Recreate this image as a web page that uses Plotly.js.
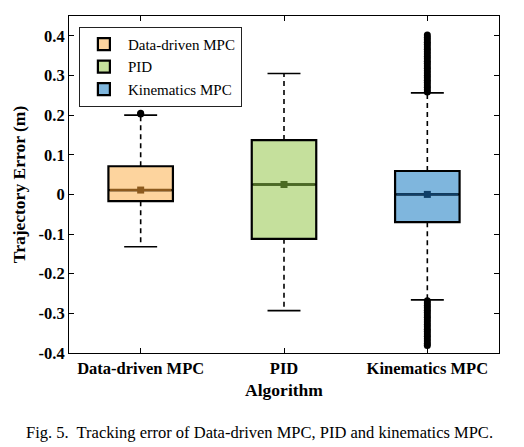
<!DOCTYPE html>
<html>
<head>
<meta charset="utf-8">
<script src="https://cdn.plot.ly/plotly-3.0.1.min.js"></script>
<style>html,body{margin:0;padding:0;background:#fff;}#chart{width:524px;height:447px;}</style>
</head>
<body>
<div id="chart"></div>
<script>
// ---- data ----
var categories = ["Data-driven MPC", "PID", "Kinematics MPC"];
var positions = [0, 1, 2];
var q1 = [-0.017, -0.112, -0.070];
var medians = [0.011, 0.025, 0.000];
var q3 = [0.071, 0.137, 0.059];
var means = [0.011, 0.025, 0.000];
var lowerWhisker = [-0.132, -0.293, -0.266];
var upperWhisker = [0.200, 0.305, 0.256];
var outliersDD = [0.203, 0.205];
var outliersPID = [];
var outliersKinHigh = [0.258, 0.264, 0.270, 0.276, 0.282, 0.288, 0.294, 0.300, 0.306, 0.312, 0.318, 0.324, 0.330, 0.336, 0.342, 0.348, 0.354, 0.360, 0.366, 0.372, 0.378, 0.384, 0.390, 0.396, 0.402];
var outliersKinLow = [-0.268, -0.274, -0.280, -0.286, -0.292, -0.298, -0.304, -0.310, -0.316, -0.322, -0.328, -0.334, -0.340, -0.346, -0.352, -0.358, -0.364, -0.370, -0.376, -0.381];
var yTickVals = [-0.4, -0.3, -0.2, -0.1, 0, 0.1, 0.2, 0.3, 0.4];
var yTickText = ["-0.4", "-0.3", "-0.2", "-0.1", "0", "0.1", "0.2", "0.3", "0.4"];

// ---- styles ----
var fillColors = ["#FDD49E", "#C5E09C", "#7FB6DD"];
var darkColors = ["#8C5A1E", "#4B6B22", "#0F3F68"];
var boxWidth = 0.45;
var capHalf = 0.115;
var serif = "'Liberation Serif', 'Times New Roman', Times, serif";

var traces = [];
for (var i = 0; i < categories.length; i++) {
  traces.push({
    type: "box", name: categories[i], x: [positions[i]],
    q1: [q1[i]], median: [medians[i]], q3: [q3[i]],
    lowerfence: [q1[i]], upperfence: [q3[i]],
    width: boxWidth, fillcolor: fillColors[i],
    line: {color: "#000", width: 2.2}, whiskerwidth: 0,
    boxpoints: false, hoverinfo: "skip", showlegend: true
  });
}
for (var i = 0; i < categories.length; i++) {
  var p = positions[i];
  traces.push({
    type: "scatter", mode: "lines", showlegend: false, hoverinfo: "skip",
    x: [p, p, null, p, p], y: [q3[i], upperWhisker[i], null, q1[i], lowerWhisker[i]],
    line: {color: "#000", width: 1.6, dash: "5px,4px"}
  });
  traces.push({
    type: "scatter", mode: "lines", showlegend: false, hoverinfo: "skip",
    x: [p - capHalf, p + capHalf, null, p - capHalf, p + capHalf],
    y: [upperWhisker[i], upperWhisker[i], null, lowerWhisker[i], lowerWhisker[i]],
    line: {color: "#000", width: 1.6}
  });
  traces.push({
    type: "scatter", mode: "lines", showlegend: false, hoverinfo: "skip",
    x: [p - boxWidth / 2 + 0.01, p + boxWidth / 2 - 0.01], y: [medians[i], medians[i]],
    line: {color: darkColors[i], width: 2.4}
  });
  traces.push({
    type: "scatter", mode: "markers", showlegend: false, hoverinfo: "skip",
    x: [p], y: [means[i]],
    marker: {symbol: "square", size: 7, color: darkColors[i]}
  });
}
var outlierSets = [outliersDD, outliersPID, outliersKinHigh.concat(outliersKinLow)];
for (var i = 0; i < categories.length; i++) {
  if (!outlierSets[i].length) continue;
  traces.push({
    type: "scatter", mode: "markers", showlegend: false, hoverinfo: "skip",
    x: outlierSets[i].map(function () { return positions[i]; }), y: outlierSets[i],
    marker: {symbol: "circle", size: 7, color: "#000"}
  });
}

var layout = {
  width: 524, height: 447,
  margin: {l: 69, r: 25, t: 15.5, b: 94, pad: 0},
  paper_bgcolor: "#fff", plot_bgcolor: "#fff",
  font: {family: serif, color: "#000"},
  showlegend: true,
  legend: {
    x: 0.023, y: 0.968, xanchor: "left", yanchor: "top",
    bgcolor: "#fff", bordercolor: "#222", borderwidth: 1,
    font: {family: serif, size: 15, color: "#000"},
    tracegroupgap: 0, itemwidth: 38
  },
  xaxis: {
    range: [-0.5, 2.5], tickmode: "array", tickvals: positions, ticktext: categories,
    ticks: "inside", ticklen: 5, tickwidth: 1, tickcolor: "#000",
    showline: true, linecolor: "#000", linewidth: 1, mirror: "ticks",
    showgrid: false, zeroline: false,
    tickfont: {family: serif, size: 16.5, weight: "bold"},
    title: {text: "<b>Algorithm</b>", font: {family: serif, size: 17.5}, standoff: 6}
  },
  yaxis: {
    range: [-0.4, 0.45], tickmode: "array", tickvals: yTickVals, ticktext: yTickText,
    ticks: "inside", ticklen: 5, tickwidth: 1, tickcolor: "#000",
    showline: true, linecolor: "#000", linewidth: 1, mirror: "ticks",
    showgrid: false, zeroline: false,
    tickfont: {family: serif, size: 16.5, weight: "bold"},
    title: {text: "<b>Trajectory Error (m)</b>", font: {family: serif, size: 17.5}, standoff: 8}
  },
  annotations: [{
    text: "Fig. 5.  Tracking error of Data-driven MPC, PID and kinematics MPC.",
    xref: "paper", yref: "paper", x: 0.442, y: -0.235, xanchor: "center", yanchor: "middle",
    showarrow: false, font: {family: serif, size: 16.5, color: "#000"}
  }]
};

Plotly.newPlot("chart", traces, layout, {displayModeBar: false, staticPlot: true});
</script>
</body>
</html>
